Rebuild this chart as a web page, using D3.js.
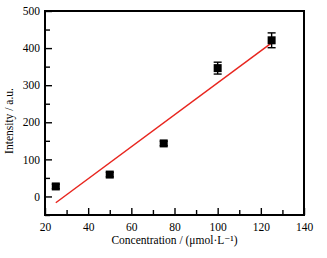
<!DOCTYPE html>
<html>
<head>
<meta charset="utf-8">
<script src="https://cdn.jsdelivr.net/npm/d3@7"></script>
<style>
  body { margin: 0; background: #fff; }
  svg text { font-family: "Liberation Serif", "DejaVu Serif", serif !important; fill: #000; }
</style>
</head>
<body>
<svg id="chart" width="327" height="258"></svg>
<script>
// data
const concentration = [25, 50, 75, 100, 125]
const intensity = [27, 59, 143, 346, 421]
const errors = [6, 6, 6, 16, 20]
const fitX = [25, 125]
const fitY = [-17, 414]
const xTicks = [20, 40, 60, 80, 100, 120, 140]
const yTicks = [0, 100, 200, 300, 400, 500]

const svg = d3.select('#chart')
const margin = {left: 45, right: 23, top: 11, bottom: 43}
const W = 327, H = 258

const x = d3.scaleLinear().domain([20, 140]).range([margin.left, W - margin.right])
const y = d3.scaleLinear().domain([-50, 500]).range([H - margin.bottom, margin.top])

// bottom axis, ticks inward
const gx = svg.append('g').attr('transform', `translate(0,${y(-50)})`)
gx.call(d3.axisBottom(x).tickValues(d3.range(20, 141, 10)).tickSize(-6).tickFormat(''))
gx.selectAll('.tick line').attr('stroke-width', 1.4)
    .attr('y2', d => d % 20 === 0 ? -7 : -5)
gx.append('g').call(d3.axisBottom(x).tickValues(xTicks).tickSize(0).tickPadding(8))
    .call(g => g.select('.domain').remove())
    .selectAll('text').style('font-size', '11.5px')
gx.select('.domain').remove()

// left axis
const gy = svg.append('g').attr('transform', `translate(${x(20)},0)`)
gy.call(d3.axisLeft(y).tickValues(d3.range(-50, 501, 50)).tickSize(-6).tickFormat(''))
gy.selectAll('.tick line').attr('stroke-width', 1.4)
    .attr('x2', d => d % 100 === 0 ? 7 : 5)
gy.append('g').call(d3.axisLeft(y).tickValues(yTicks).tickSize(0).tickPadding(5))
    .call(g => g.select('.domain').remove())
    .selectAll('text').style('font-size', '11.5px')
gy.select('.domain').remove()

// frame
svg.append('rect')
    .attr('x', x(20)).attr('y', y(500))
    .attr('width', x(140) - x(20)).attr('height', y(-50) - y(500))
    .attr('fill', 'none').attr('stroke', '#000').attr('stroke-width', 2)

// fit line
svg.append('line')
    .attr('x1', x(fitX[0])).attr('y1', y(fitY[0]))
    .attr('x2', x(fitX[1])).attr('y2', y(fitY[1]))
    .attr('stroke', '#e8261f').attr('stroke-width', 1.5)

const pts = concentration.map((c, i) => ({c: c, v: intensity[i], e: errors[i]}))

// error bars
const eb = svg.append('g').attr('stroke', '#000').attr('stroke-width', 1.4)
pts.forEach(d => {
    eb.append('line').attr('x1', x(d.c)).attr('x2', x(d.c)).attr('y1', y(d.v - d.e)).attr('y2', y(d.v + d.e))
    eb.append('line').attr('x1', x(d.c) - 4).attr('x2', x(d.c) + 4).attr('y1', y(d.v - d.e)).attr('y2', y(d.v - d.e))
    eb.append('line').attr('x1', x(d.c) - 4).attr('x2', x(d.c) + 4).attr('y1', y(d.v + d.e)).attr('y2', y(d.v + d.e))
})

// markers
svg.selectAll('rect.pt')
    .data(pts)
    .join('rect')
    .attr('class', 'pt')
    .attr('x', d => x(d.c) - 4).attr('y', d => y(d.v) - 4)
    .attr('width', 8).attr('height', 8)
    .attr('fill', '#000')

// axis titles
svg.append('text')
    .attr('x', (x(20) + x(140)) / 2).attr('y', 244)
    .attr('text-anchor', 'middle').style('font-size', '11.5px')
    .text('Concentration / (μmol·L⁻¹)')
svg.append('text')
    .attr('transform', `translate(13,${(y(-50) + y(500)) / 2 + 8}) rotate(-90)`)
    .attr('text-anchor', 'middle').style('font-size', '11.5px')
    .text('Intensity / a.u.')
</script>
</body>
</html>
